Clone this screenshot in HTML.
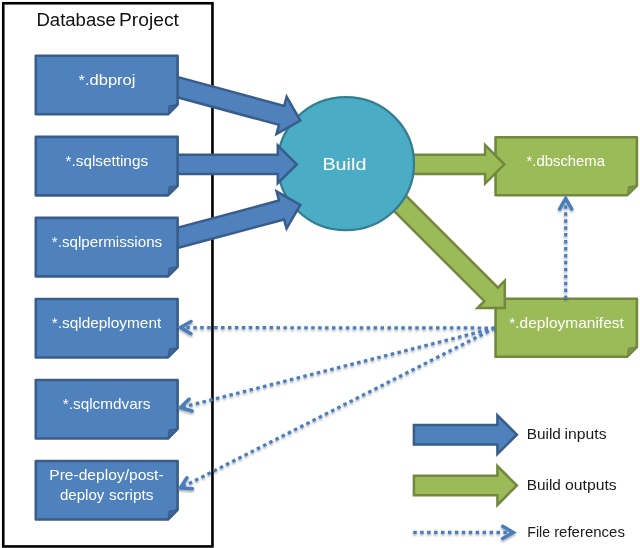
<!DOCTYPE html>
<html><head><meta charset="utf-8"><title>Database Project Build</title>
<style>
html,body{margin:0;padding:0;background:#fff;}
body{width:640px;height:548px;overflow:hidden;}
svg{display:block;}
text{font-family:"Liberation Sans",sans-serif;}
svg{opacity:0.999;}
</style></head><body>
<svg width="640" height="548" viewBox="0 0 640 548">
<defs>
<filter id="sh" x="-20%" y="-20%" width="140%" height="140%"><feDropShadow dx="0" dy="1.6" stdDeviation="0.9" flood-color="#000" flood-opacity="0.36"/></filter>
</defs>
<rect width="640" height="548" fill="#fff"/>
<rect x="3.25" y="3.25" width="209.2" height="543.2" fill="#fff" stroke="#000" stroke-width="2.6"/>
<text transform="translate(36.42,25.6) scale(1.0484,1)" font-size="17.7" fill="#111">Database</text>
<text transform="translate(118.96,25.6) scale(1.0879,1)" font-size="17.7" fill="#111">Project</text>
<path d="M495.55,137.2 H636.9 V185.6 L627.3,195.2 H495.55 Z" fill="#9BBB59" stroke="#71893F" stroke-width="2.6" stroke-linejoin="round"/>
<path d="M627.3,195.2 L628.5,186.79999999999998 L636.9,185.6 Z" fill="#7C9647" stroke="#71893F" stroke-width="1.2" stroke-linejoin="round"/>
<text transform="translate(526.53,165.75) scale(1.0321,1)" font-size="14.4" fill="#fff">*.dbschema</text>
<path d="M495.55,298.7 H636.9 V347.09999999999997 L627.3,356.7 H495.55 Z" fill="#9BBB59" stroke="#71893F" stroke-width="2.6" stroke-linejoin="round"/>
<path d="M627.3,356.7 L628.5,348.29999999999995 L636.9,347.09999999999997 Z" fill="#7C9647" stroke="#71893F" stroke-width="1.2" stroke-linejoin="round"/>
<text transform="translate(509.27,327.5) scale(1.0765,1)" font-size="14.4" fill="#fff">*.deploymanifest</text>
<path d="M354.40,154.70 L485.10,154.70 L485.10,145.00 L504.40,164.30 L485.10,183.60 L485.10,173.90 L354.40,173.90 Z" fill="#9BBB59" stroke="#71893F" stroke-width="2.5"/>
<path d="M370.17,159.89 L497.94,287.66 L504.80,280.81 L504.80,308.10 L477.51,308.10 L484.36,301.24 L356.59,173.47 Z" fill="#9BBB59" stroke="#71893F" stroke-width="2.5"/>
<ellipse cx="345.9" cy="163.7" rx="68.1" ry="66.5" fill="#4BACC6" stroke="#357D91" stroke-width="2.3"/>
<text transform="translate(322.42,170) scale(1.1384,1)" font-size="17.4" fill="#fff">Build</text>
<path d="M148.47,69.09 L284.15,105.96 L286.64,96.79 L300.30,120.50 L276.52,134.04 L279.01,124.87 L143.33,88.01 Z" fill="#4F81BD" stroke="#385D8A" stroke-width="2.5"/>
<path d="M136.80,154.80 L277.80,154.80 L277.80,145.60 L296.80,164.40 L277.80,183.20 L277.80,174.00 L136.80,174.00 Z" fill="#4F81BD" stroke="#385D8A" stroke-width="2.5"/>
<path d="M143.22,236.89 L279.02,200.51 L276.57,191.33 L300.30,204.95 L286.56,228.61 L284.10,219.44 L148.29,255.83 Z" fill="#4F81BD" stroke="#385D8A" stroke-width="2.5"/>
<path d="M35.8,55.8 H177.6 V104.7 L168.0,114.3 H35.8 Z" fill="#4F81BD" stroke="#385D8A" stroke-width="2.6" stroke-linejoin="round"/>
<path d="M168.0,114.3 L169.2,105.9 L177.6,104.7 Z" fill="#3E6697" stroke="#385D8A" stroke-width="1.2" stroke-linejoin="round"/>
<text transform="translate(78.50,84.7) scale(1.1485,1)" font-size="14.4" fill="#fff">*.dbproj</text>
<path d="M35.8,136.85 H177.6 V185.75 L168.0,195.35 H35.8 Z" fill="#4F81BD" stroke="#385D8A" stroke-width="2.6" stroke-linejoin="round"/>
<path d="M168.0,195.35 L169.2,186.95 L177.6,185.75 Z" fill="#3E6697" stroke="#385D8A" stroke-width="1.2" stroke-linejoin="round"/>
<text transform="translate(65.52,165.75) scale(1.0631,1)" font-size="14.4" fill="#fff">*.sqlsettings</text>
<path d="M35.8,217.9 H177.6 V266.79999999999995 L168.0,276.4 H35.8 Z" fill="#4F81BD" stroke="#385D8A" stroke-width="2.6" stroke-linejoin="round"/>
<path d="M168.0,276.4 L169.2,267.99999999999994 L177.6,266.79999999999995 Z" fill="#3E6697" stroke="#385D8A" stroke-width="1.2" stroke-linejoin="round"/>
<text transform="translate(51.77,246.8) scale(1.0542,1)" font-size="14.4" fill="#fff">*.sqlpermissions</text>
<path d="M35.8,298.95 H177.6 V347.84999999999997 L168.0,357.45 H35.8 Z" fill="#4F81BD" stroke="#385D8A" stroke-width="2.6" stroke-linejoin="round"/>
<path d="M168.0,357.45 L169.2,349.04999999999995 L177.6,347.84999999999997 Z" fill="#3E6697" stroke="#385D8A" stroke-width="1.2" stroke-linejoin="round"/>
<text transform="translate(51.77,327.85) scale(1.0693,1)" font-size="14.4" fill="#fff">*.sqldeployment</text>
<path d="M35.8,380.0 H177.6 V428.9 L168.0,438.5 H35.8 Z" fill="#4F81BD" stroke="#385D8A" stroke-width="2.6" stroke-linejoin="round"/>
<path d="M168.0,438.5 L169.2,430.09999999999997 L177.6,428.9 Z" fill="#3E6697" stroke="#385D8A" stroke-width="1.2" stroke-linejoin="round"/>
<text transform="translate(62.77,408.9) scale(1.0655,1)" font-size="14.4" fill="#fff">*.sqlcmdvars</text>
<path d="M35.8,461.05 H177.6 V509.94999999999993 L168.0,519.55 H35.8 Z" fill="#4F81BD" stroke="#385D8A" stroke-width="2.6" stroke-linejoin="round"/>
<path d="M168.0,519.55 L169.2,511.1499999999999 L177.6,509.94999999999993 Z" fill="#3E6697" stroke="#385D8A" stroke-width="1.2" stroke-linejoin="round"/>
<text transform="translate(49.25,480.35) scale(1.0836,1)" font-size="14.4" fill="#fff">Pre-deploy/post-</text>
<text transform="translate(59.90,499.85) scale(1.0477,1)" font-size="14.4" fill="#fff">deploy</text>
<text transform="translate(109.04,499.85) scale(1.0712,1)" font-size="14.4" fill="#fff">scripts</text>
<g stroke="#4A7EBB" stroke-width="3.2" filter="url(#sh)">
<line x1="495" y1="328" x2="181.00" y2="327.60" stroke-dasharray="3.5 3.435"/>
<polyline points="191.02,333.74 180.50,327.60 191.04,321.49" fill="none" stroke-width="3.5" stroke-linecap="round" stroke-linejoin="miter"/>
<line x1="495" y1="328" x2="180.94" y2="407.51" stroke-dasharray="3.5 3.435"/>
<polyline points="192.16,410.99 180.45,407.63 189.16,399.11" fill="none" stroke-width="3.5" stroke-linecap="round" stroke-linejoin="miter"/>
<line x1="495" y1="328" x2="180.78" y2="487.79" stroke-dasharray="3.5 3.435"/>
<polyline points="192.50,488.71 180.34,488.02 186.94,477.78" fill="none" stroke-width="3.5" stroke-linecap="round" stroke-linejoin="miter"/>
<line x1="565.7" y1="299" x2="565.70" y2="199.00" stroke-dasharray="3.5 3.435"/>
<polyline points="559.57,209.03 565.70,198.50 571.83,209.03" fill="none" stroke-width="3.5" stroke-linecap="round" stroke-linejoin="miter"/>
<line x1="413.25" y1="532.4" x2="512.75" y2="532.40" stroke-dasharray="3.5 3.435"/>
<polyline points="502.72,526.27 513.25,532.40 502.72,538.53" fill="none" stroke-width="3.5" stroke-linecap="round" stroke-linejoin="miter"/>
</g>
<path d="M413.90,425.00 L497.40,425.00 L497.40,415.30 L516.90,434.70 L497.40,454.10 L497.40,444.40 L413.90,444.40 Z" fill="#4F81BD" stroke="#385D8A" stroke-width="2.5"/>
<path d="M413.90,475.80 L497.40,475.80 L497.40,466.10 L516.90,485.50 L497.40,504.90 L497.40,495.20 L413.90,495.20 Z" fill="#9BBB59" stroke="#71893F" stroke-width="2.5"/>
<text transform="translate(526.67,438.8) scale(1.0684,1)" font-size="14.4" fill="#1a1a1a">Build</text>
<text transform="translate(564.58,438.8) scale(1.0911,1)" font-size="14.4" fill="#1a1a1a">inputs</text>
<text transform="translate(526.67,489.75) scale(1.0684,1)" font-size="14.4" fill="#1a1a1a">Build</text>
<text transform="translate(564.97,489.75) scale(1.0964,1)" font-size="14.4" fill="#1a1a1a">outputs</text>
<text transform="translate(527.27,536.7) scale(0.9820,1)" font-size="14.4" fill="#1a1a1a">File</text>
<text transform="translate(554.13,536.7) scale(1.0405,1)" font-size="14.4" fill="#1a1a1a">references</text>
</svg></body></html>
